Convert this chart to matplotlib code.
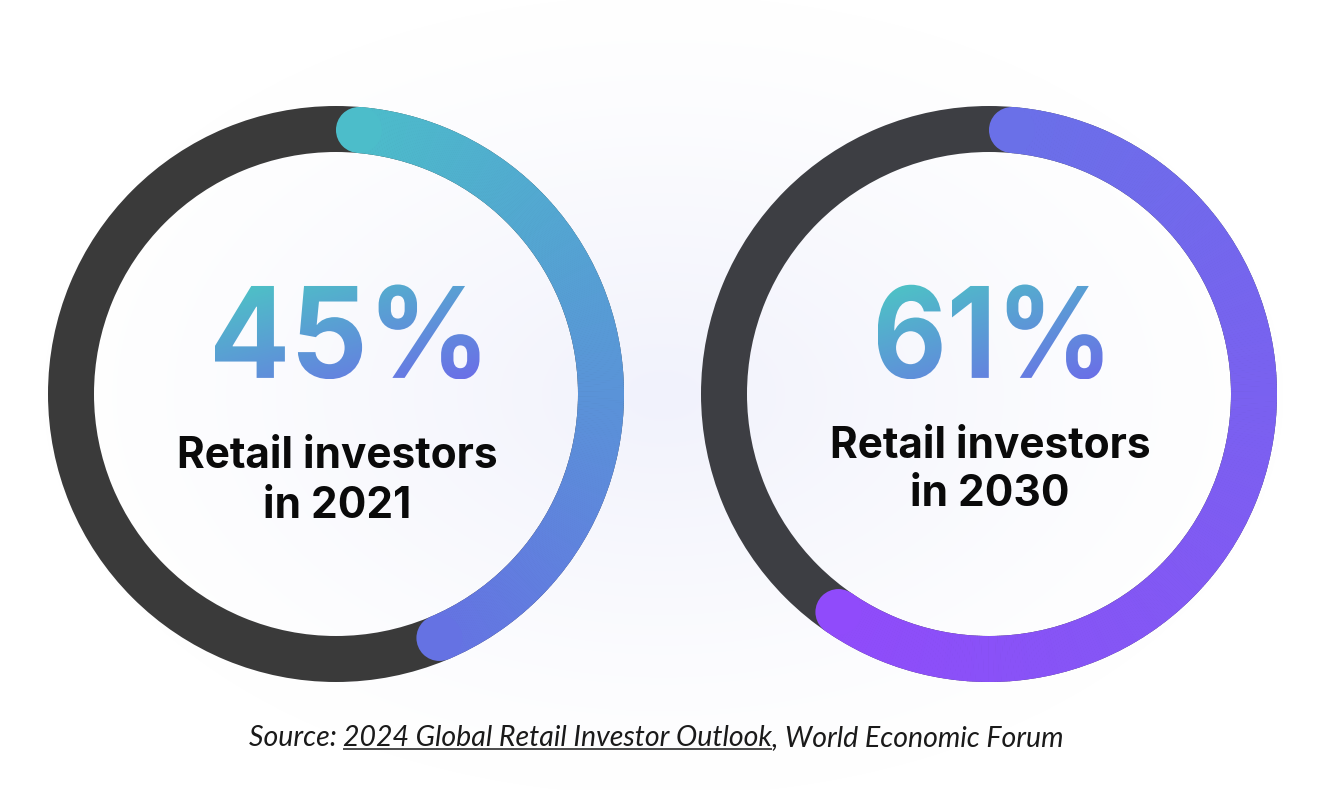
import numpy as np
import matplotlib
matplotlib.use("Agg")
import matplotlib.pyplot as plt
from matplotlib.patches import Wedge, Circle, PathPatch
from matplotlib.textpath import TextPath
from matplotlib.font_manager import FontProperties
from matplotlib.colors import to_rgb
from matplotlib.transforms import Affine2D

# ---------------- data ----------------
values = [45, 61]
pct_labels = ["45%", "61%"]
labels = ["Retail investors\nin 2021", "Retail investors\nin 2030"]
arc_start_colors = ["#4BBFC9", "#6971E8"]
arc_end_colors = ["#6670E4", "#914AFB"]
track_colors = ["#3A3A3A", "#3D3E43"]
text_grad = ["#4CC6C4", "#6B6EE8"]
source_parts = ["Source: ", "2024 Global Retail Investor Outlook", ", World Economic Forum"]

# ---------------- layout ----------------
W, H = 1326, 790
fig = plt.figure(figsize=(W / 100, H / 100), dpi=100)
ax = fig.add_axes([0, 0, 1, 1])
ax.set_xlim(0, W)
ax.set_ylim(0, H)
ax.axis("off")

# background soft radial glow
yy, xx = np.mgrid[0:H, 0:W]
d = np.sqrt(((xx - 663) / 620.0) ** 2 + ((yy - 395) / 400.0) ** 2)
w = np.clip(1 - d, 0, 1) ** 1.2
c0 = np.array(to_rgb("#FFFFFF"))
c1 = np.array(to_rgb("#F1F2FC"))
bg = c0[None, None, :] * (1 - w[..., None]) + c1[None, None, :] * w[..., None]
ax.imshow(bg, extent=[0, W, 0, H], origin="upper", zorder=0, aspect="auto")

centers = [(336, 396), (989, 396)]
R_out, ring_w = 288, 46
R_mid = R_out - ring_w / 2
cap_r = ring_w / 2
cap_deg = np.degrees(cap_r / R_mid)

def lerp(a, b, t):
    a, b = np.array(to_rgb(a)), np.array(to_rgb(b))
    return tuple(a + (b - a) * t)

bold = FontProperties(family=["Inter", "DejaVu Sans"], weight="bold")
pct_boxes = [(265, 95, 11), (225, 95, 1)]  # width, height, x offset of big numbers

for i, (cx, cy) in enumerate(centers):
    ax.add_patch(Wedge((cx, cy), R_out, 0, 360, width=ring_w,
                       facecolor=track_colors[i], edgecolor="none", zorder=2))
    total = values[i] / 100 * 360
    a0, a1 = cap_deg, total - cap_deg
    n = 400
    edges = np.linspace(a0, a1, n + 1)
    for k in range(n):
        t = ((edges[k] + edges[k + 1]) / 2) / total
        col = lerp(arc_start_colors[i], arc_end_colors[i], t)
        th1 = 90 - edges[k + 1] - 0.15
        th2 = 90 - edges[k]
        ax.add_patch(Wedge((cx, cy), R_out, th1, th2, width=ring_w,
                           facecolor=col, edgecolor="none", zorder=3))
    for ang in (a0, a1):
        c = lerp(arc_start_colors[i], arc_end_colors[i], ang / total)
        rad = np.radians(90 - ang)
        ax.add_patch(Circle((cx + R_mid * np.cos(rad), cy + R_mid * np.sin(rad)),
                            cap_r, facecolor=c, edgecolor="none", zorder=4))

    # gradient percentage text
    tp = TextPath((0, 0), pct_labels[i], size=100, prop=bold)
    bb = tp.get_extents()
    tw, th, dx = pct_boxes[i]
    tcx, tcy = cx + dx, H - 332
    tr = (Affine2D().translate(-bb.x0 - bb.width / 2, -bb.y0 - bb.height / 2)
          .scale(tw / bb.width, th / bb.height).translate(tcx, tcy))
    path = tr.transform_path(tp)
    patch = PathPatch(path, facecolor="none", edgecolor="none", transform=ax.transData)
    ax.add_patch(patch)
    gx, gy = np.meshgrid(np.linspace(0, 1, 200), np.linspace(0, 1, 80))
    tg = np.clip(0.45 * gx + 0.55 * gy, 0, 1)
    ca, cb = np.array(to_rgb(text_grad[0])), np.array(to_rgb(text_grad[1]))
    img = ca[None, None, :] * (1 - tg[..., None]) + cb[None, None, :] * tg[..., None]
    x0, x1 = tcx - tw / 2, tcx + tw / 2
    y0, y1 = tcy - th / 2, tcy + th / 2
    im = ax.imshow(img, extent=[x0, x1, y0, y1], origin="upper", zorder=5, aspect="auto")
    im.set_clip_path(patch)

fig.canvas.draw()
renderer = fig.canvas.get_renderer()

# label texts
label_rows = [[456, 506], [447, 494]]
target_w = 321
for i, (cx, cy) in enumerate(centers):
    lines = labels[i].split("\n")
    probe = ax.text(0, 0, lines[0], fontsize=30, fontweight="bold",
                    family=["Inter", "DejaVu Sans"])
    pw = probe.get_window_extent(renderer).width
    probe.remove()
    fs = 30 * target_w / pw
    for line, yrow in zip(lines, label_rows[i]):
        ax.text(cx + 1, H - yrow, line, fontsize=fs, fontweight="bold",
                family=["Inter", "DejaVu Sans"], color="#0A0A0A",
                ha="center", va="center", zorder=6)

# source line
fam_src = ["Lato", "DejaVu Sans"]
src_fs = 17
texts = [ax.text(0, H - 738, p, fontsize=src_fs, style="italic", fontweight="normal",
                 family=fam_src, color="#1A1A1A", ha="left", va="center", zorder=6)
         for p in source_parts]
fig.canvas.draw()
widths = [t.get_window_extent(renderer).width for t in texts]
src_fs *= 817 / sum(widths)
for t in texts:
    t.set_fontsize(src_fs)
fig.canvas.draw()
widths = [t.get_window_extent(renderer).width for t in texts]
x = 656 - sum(widths) / 2
starts = []
for t, wdt in zip(texts, widths):
    t.set_x(x)
    starts.append(x)
    x += wdt
ax.plot([starts[1], starts[1] + widths[1]], [H - 749, H - 749], color="#1A1A1A",
        lw=1.1, zorder=6, solid_capstyle="butt")

fig.savefig("out.png", dpi=100)
